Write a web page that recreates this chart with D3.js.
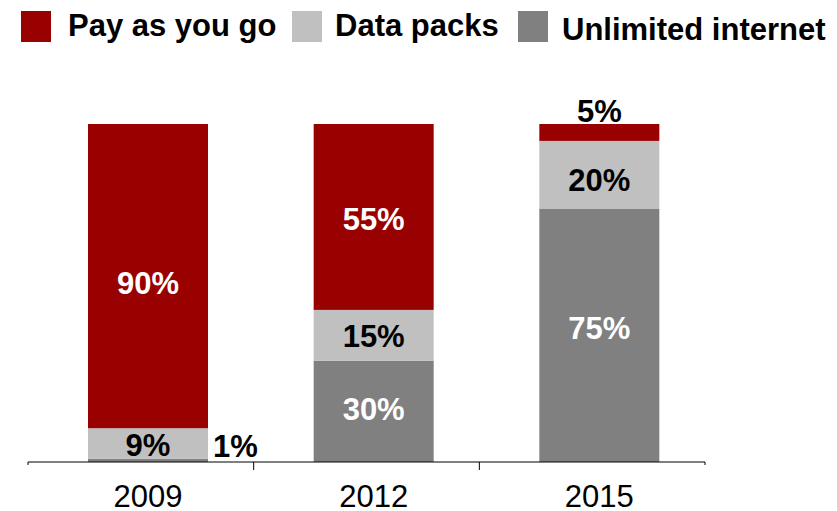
<!DOCTYPE html>
<html>
<head>
<meta charset="utf-8">
<script src="https://cdn.jsdelivr.net/npm/d3@7/dist/d3.min.js"></script>
<style>
  body { margin: 0; background: #fff; }
  svg { display: block; font-family: "Liberation Sans", Arial, sans-serif; }
</style>
</head>
<body>
<svg class="chart" width="837" height="511"></svg>
<script>
const years = ["2009", "2012", "2015"];
const series = ["Unlimited internet", "Data packs", "Pay as you go"];
const unlimited = [1, 30, 75];
const dataPacks = [9, 15, 20];
const payGo = [90, 55, 5];
const legendOrder = ["Pay as you go", "Data packs", "Unlimited internet"];

const colours = {
    "Pay as you go": "#990000",
    "Data packs": "#c0c0c0",
    "Unlimited internet": "#808080"
};
const labelColours = {
    "Pay as you go": "#fff",
    "Data packs": "#000",
    "Unlimited internet": "#fff"
};
// baseline nudge from the segment middle, as placed in the original
const labelDy = {
    "Pay as you go": [18, 13, 0],
    "Data packs": [13, 12, 16],
    "Unlimited internet": [0, 9, 4]
};

const svg = d3.select(".chart");

const rows = years.map((yr, i) => ({
    year: yr,
    "Unlimited internet": unlimited[i],
    "Data packs": dataPacks[i],
    "Pay as you go": payGo[i]
}));

const stacked = d3.stack().keys(series)(rows);

const x = d3.scaleBand()
    .domain(years)
    .range([28, 705])
    .padding(0);

const barW = 120;
const barOff = 60;   // bar sits a bit right of band centre
const barMid = (yr) => x(yr) + barOff + barW / 2;

const y = d3.scaleLinear()
    .domain([0, 100])
    .range([462, 124]);

// bars
const layers = svg.selectAll('.layer')
    .data(stacked)
    .enter().append('g')
    .attr('class', 'layer')
    .style('fill', (d) => colours[d.key]);

layers.selectAll('rect')
    .data((d) => d)
    .enter().append('rect')
    .attr('x', (d) => x(d.data.year) + barOff)
    .attr('y', (d) => y(d[1]))
    .attr('width', barW)
    .attr('height', (d) => y(d[0]) - y(d[1]));

// value labels
stacked.forEach((layer) => {
    layer.forEach((d, i) => {
        const v = d[1] - d[0];
        const cx = barMid(d.data.year);
        let tx = cx, ty = (y(d[0]) + y(d[1])) / 2 + labelDy[layer.key][i];
        let anchor = 'middle', fill = labelColours[layer.key];
        if (v <= 2) {
            // tiny segment: label beside the bar
            tx = cx + barW / 2 + 5; ty = y(d[0]) - 5; anchor = 'start'; fill = '#000';
        } else if (v <= 6) {
            // thin segment: label above the bar
            ty = y(d[1]) - 2; fill = '#000';
        }
        svg.append('text')
            .attr('x', tx)
            .attr('y', ty)
            .attr('text-anchor', anchor)
            .style('font-size', '31px')
            .style('font-weight', 'bold')
            .style('fill', fill)
            .text(v + '%');
    });
});

// axis (semi-transparent so it darkens over the bars)
svg.append('line')
    .attr('x1', 28).attr('x2', 705)
    .attr('y1', y(0)).attr('y2', y(0))
    .style('stroke', 'rgba(0,0,0,0.5)')
    .style('stroke-width', 2);

const bounds = years.map((yr) => x(yr)).concat([x.range()[1]]);
svg.selectAll('.tick-mark')
    .data(bounds)
    .enter().append('line')
    .attr('class', 'tick-mark')
    .attr('x1', (d) => d).attr('x2', (d) => d)
    .attr('y1', y(0))
    .attr('y2', (d, i) => (i === 0 || i === bounds.length - 1) ? y(0) + 3 : y(0) + 8)
    .style('stroke', '#000')
    .style('stroke-width', 1);

svg.selectAll('.year-label')
    .data(years)
    .enter().append('text')
    .attr('class', 'year-label')
    .attr('x', (d) => barMid(d))
    .attr('y', 507)
    .attr('text-anchor', 'middle')
    .style('font-size', '31px')
    .style('fill', '#000')
    .text((d) => d);

// legend
const legendX = [21, 292, 518];
const legendTextX = [68, 335, 562];
const legendTextY = [36, 36, 40];
const legend = svg.selectAll('.legend')
    .data(legendOrder)
    .enter().append('g')
    .attr('class', 'legend');

legend.append('rect')
    .attr('x', (d, i) => legendX[i])
    .attr('y', 11)
    .attr('width', 30)
    .attr('height', 31)
    .style('fill', (d) => colours[d]);

legend.append('text')
    .attr('x', (d, i) => legendTextX[i])
    .attr('y', (d, i) => legendTextY[i])
    .style('font-size', '31px')
    .style('font-weight', 'bold')
    .style('fill', '#000')
    .text((d) => d);
</script>
</body>
</html>
